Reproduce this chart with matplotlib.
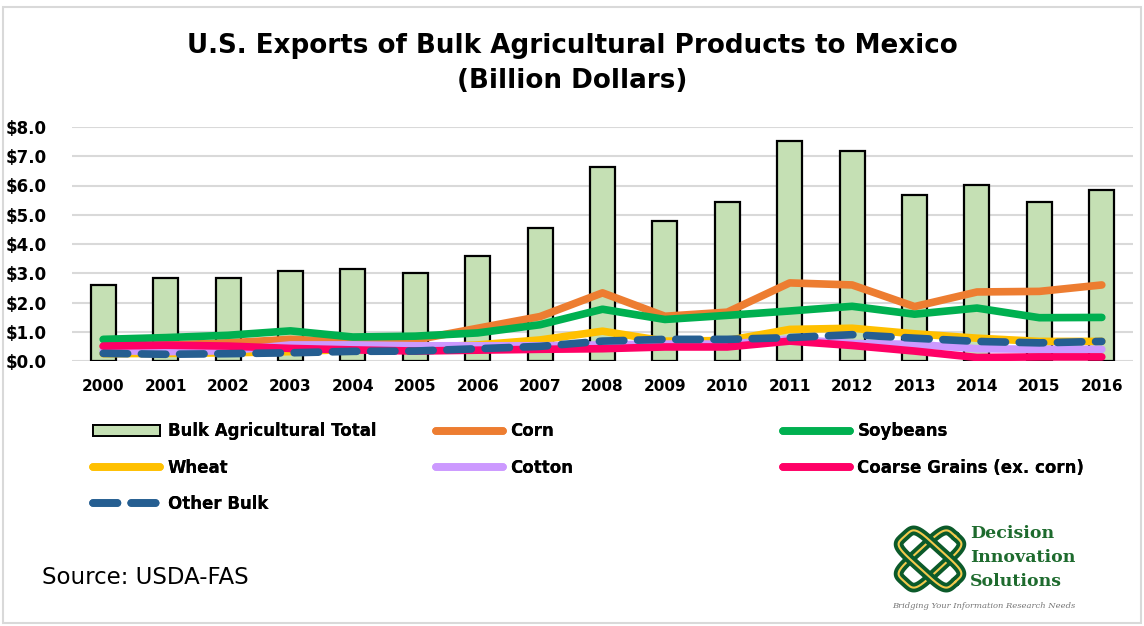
import numpy as np
import matplotlib
matplotlib.use("Agg")
from matplotlib import pyplot as plt
from matplotlib.patches import Rectangle

years = ['2000', '2001', '2002', '2003', '2004', '2005', '2006', '2007', '2008',
         '2009', '2010', '2011', '2012', '2013', '2014', '2015', '2016']
total = [2.61, 2.85, 2.85, 3.08, 3.15, 3.00, 3.60, 4.54, 6.62, 4.79, 5.42, 7.53, 7.17, 5.68, 6.02, 5.42, 5.84]
corn = [0.50, 0.55, 0.62, 0.74, 0.65, 0.72, 1.12, 1.52, 2.33, 1.53, 1.67, 2.67, 2.60, 1.86, 2.36, 2.38, 2.60]
soybeans = [0.74, 0.80, 0.88, 1.03, 0.82, 0.85, 0.96, 1.24, 1.77, 1.42, 1.56, 1.71, 1.87, 1.60, 1.81, 1.48, 1.49]
wheat = [0.25, 0.26, 0.28, 0.32, 0.40, 0.45, 0.55, 0.72, 1.02, 0.68, 0.70, 1.08, 1.12, 0.93, 0.78, 0.67, 0.67]
cotton = [0.36, 0.32, 0.35, 0.55, 0.55, 0.52, 0.52, 0.52, 0.55, 0.58, 0.58, 0.75, 0.60, 0.57, 0.42, 0.40, 0.40]
coarse = [0.51, 0.54, 0.51, 0.43, 0.38, 0.34, 0.37, 0.40, 0.42, 0.48, 0.48, 0.68, 0.53, 0.34, 0.12, 0.14, 0.14]
other = [0.26, 0.23, 0.25, 0.28, 0.33, 0.34, 0.42, 0.50, 0.68, 0.74, 0.74, 0.80, 0.90, 0.78, 0.67, 0.62, 0.67]
yticks = [0, 1, 2, 3, 4, 5, 6, 7, 8]

fig = plt.figure(figsize=(11.44, 6.26), dpi=100)
fig.patches.append(Rectangle((0.003, 0.004), 0.994, 0.985, transform=fig.transFigure,
                             fill=False, edgecolor='#d9d9d9', linewidth=1.5))

ax = fig.add_axes([72 / 1144, 1 - 361 / 626, (1133 - 72) / 1144, 234 / 626])
x = np.arange(len(years))

ax.bar(x, total, width=0.4, color='#c5e0b4', edgecolor='black', linewidth=1.6, zorder=2)
lw = 5.5
l_corn, = ax.plot(x, corn, color='#ed7d31', lw=lw, solid_capstyle='round', zorder=3)
l_soy, = ax.plot(x, soybeans, color='#00b050', lw=lw, solid_capstyle='round', zorder=3)
l_wheat, = ax.plot(x, wheat, color='#ffc000', lw=lw, solid_capstyle='round', zorder=3)
l_cotton, = ax.plot(x, cotton, color='#cc99ff', lw=lw, solid_capstyle='round', zorder=3)
l_coarse, = ax.plot(x, coarse, color='#ff0066', lw=lw, solid_capstyle='round', zorder=3)
l_other, = ax.plot(x, other, color='#255e91', lw=lw, dashes=(3.2, 1.8), dash_capstyle='round', zorder=3)

ax.set_xlim(-0.5, len(years) - 0.5)
ax.set_ylim(0, 8)
ax.set_yticks(yticks)
ax.set_yticklabels(['${:.1f}'.format(v) for v in yticks], fontsize=12, fontweight='bold')
ax.set_xticks(x)
ax.set_xticklabels(years, fontsize=11, fontweight='bold')
ax.tick_params(axis='x', length=0, pad=13)
ax.tick_params(axis='y', length=0, pad=18)
ax.grid(axis='y', color='#d9d9d9', linewidth=1.5, zorder=0)
ax.set_axisbelow(True)
for s in ax.spines.values():
    s.set_visible(False)

fig.text(0.5, 1 - 46 / 626, 'U.S. Exports of Bulk Agricultural Products to Mexico',
         ha='center', va='center', fontsize=18.8, fontweight='bold')
fig.text(0.5, 1 - 81 / 626, '(Billion Dollars)', ha='center', va='center',
         fontsize=18.8, fontweight='bold')

# legend, three columns like the Excel layout
bar_handle = Rectangle((0, 0), 1, 1, facecolor='#c5e0b4', edgecolor='black', linewidth=1.4)
cols = [([bar_handle, l_wheat, l_other], ['Bulk Agricultural Total', 'Wheat', 'Other Bulk'], 85),
        ([l_corn, l_cotton], ['Corn', 'Cotton'], 428),
        ([l_soy, l_coarse], ['Soybeans', 'Coarse Grains (ex. corn)'], 775)]
for handles, labels, xpix in cols:
    leg = fig.legend(handles, labels, loc='upper left', bbox_to_anchor=(xpix / 1144, 1 - 414 / 626),
                     frameon=False, handlelength=4.0, handletextpad=0.45, labelspacing=1.1,
                     borderpad=0, prop={'weight': 'bold', 'size': 12})
    fig.add_artist(leg)

fig.text(42 / 1144, 1 - 578 / 626, 'Source: USDA-FAS', ha='left', va='center', fontsize=16.5)

# logo
lax = fig.add_axes([885 / 1144, 1 - 600 / 626, 90 / 1144, 82 / 626])
lax.set_xlim(-1.2, 1.2)
lax.set_ylim(-1.2, 1.2)
lax.axis('off')
t = np.linspace(0, 2 * np.pi, 200)
for ang in [np.pi / 4, -np.pi / 4]:
    px = 0.95 * np.sign(np.cos(t)) * np.abs(np.cos(t)) ** 0.4
    py = 0.38 * np.sign(np.sin(t)) * np.abs(np.sin(t)) ** 0.4
    rx = px * np.cos(ang) - py * np.sin(ang)
    ry = px * np.sin(ang) + py * np.cos(ang)
    lax.plot(rx, ry, color='#0b5a2a', lw=7, solid_capstyle='round')
    lax.plot(rx, ry, color='#f2c94c', lw=1.5)

fig.text(970 / 1144, 1 - 534 / 626, 'Decision', family='DejaVu Serif', fontweight='bold',
         fontsize=12.5, color='#1e6b2e', va='center')
fig.text(970 / 1144, 1 - 558 / 626, 'Innovation', family='DejaVu Serif', fontweight='bold',
         fontsize=12.5, color='#1e6b2e', va='center')
fig.text(970 / 1144, 1 - 582 / 626, 'Solutions', family='DejaVu Serif', fontweight='bold',
         fontsize=12.5, color='#1e6b2e', va='center')
fig.text(892 / 1144, 1 - 606 / 626, 'Bridging Your Information Research Needs', family='DejaVu Serif',
         style='italic', fontsize=6, color='#777777', va='center')

fig.savefig('out.png', dpi=100)
